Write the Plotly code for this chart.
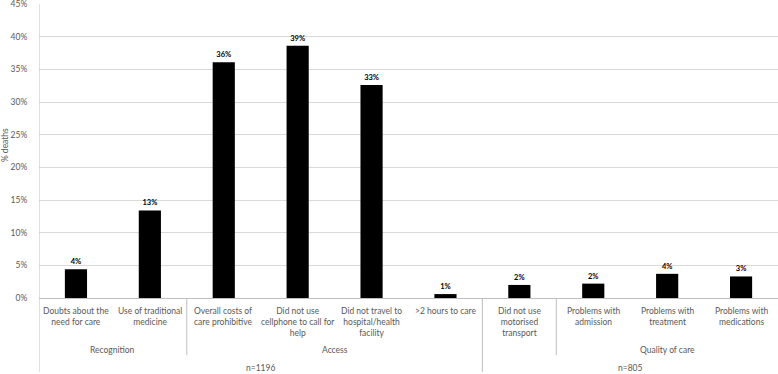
import plotly.graph_objects as go

# ---- data ----
categories = [
    "Doubts about the<br>need for care",
    "Use of traditional<br>medicine",
    "Overall costs of<br>care prohibitive",
    "Did not use<br>cellphone to call for<br>help",
    "Did not travel to<br>hospital/health<br>facility",
    ">2 hours to care",
    "Did not use<br>motorised<br>transport",
    "Problems with<br>admission",
    "Problems with<br>treatment",
    "Problems with<br>medications",
]
values = [4.4, 13.4, 36.1, 38.6, 32.6, 0.6, 2.0, 2.2, 3.7, 3.3]
groups = ["Recognition", "Recognition", "Access", "Access", "Access", "Access", "",
          "Quality of care", "Quality of care", "Quality of care"]
samples = ["n=1196"] * 6 + ["n=805"] * 4
y_ticks = [0, 5, 10, 15, 20, 25, 30, 35, 40, 45]
y_tick_labels = ["0%", "5%", "10%", "15%", "20%", "25%", "30%", "35%", "40%", "45%"]

# ---- layout constants ----
W, H = 778, 374
ML, MR, MT, MB = 39, 0, 4, 76
PH = H - MT - MB
FONT = "Lato, 'Open Sans', sans-serif"
GREY = "#595959"
LINE = "#bfbfbf"


def py(px):
    """pixel row -> paper y"""
    return (H - MB - px) / PH


x = list(range(len(categories)))

fig = go.Figure()
fig.add_trace(go.Bar(
    x=x, y=values, width=0.3,
    marker=dict(color="black", line=dict(width=0)),
    texttemplate="<b>%{y:.0f}%</b>", textposition="outside",
    textfont=dict(size=7.5, color="black", family=FONT),
    cliponaxis=False, hoverinfo="skip",
))

annotations = []
# level 1 labels
for xi, c in zip(x, categories):
    annotations.append(dict(x=xi, y=py(303.5), xref="x", yref="paper", text=c,
                            showarrow=False, yanchor="top", xanchor="center",
                            font=dict(size=8.5, color=GREY, family=FONT)))


def spans(labels):
    out = []
    start = 0
    for i in range(1, len(labels) + 1):
        if i == len(labels) or labels[i] != labels[start]:
            out.append((labels[start], start, i - 1))
            start = i
    return out


shapes = []
g_spans = spans(groups)
s_spans = spans(samples)
for lab, a, b in g_spans:
    if lab:
        annotations.append(dict(x=(a + b) / 2, y=py(350), xref="x", yref="paper", text=lab,
                                showarrow=False, yanchor="middle",
                                font=dict(size=8.5, color=GREY, family=FONT)))
for lab, a, b in s_spans:
    annotations.append(dict(x=(a + b) / 2, y=py(367.5), xref="x", yref="paper", text=lab,
                            showarrow=False, yanchor="middle",
                            font=dict(size=8.5, color=GREY, family=FONT)))

# y-axis title
annotations.append(dict(x=0, y=0.52, xref="paper", yref="paper", xshift=-ML + 5, text="% deaths",
                        textangle=-90, showarrow=False, xanchor="center", yanchor="middle",
                        font=dict(size=8.5, color=GREY, family=FONT)))

s_bounds = {b for _, _, b in s_spans}
for _, a, b in g_spans:
    if b == len(x) - 1:
        continue
    bottom = 372 if b in s_bounds else 355
    shapes.append(dict(type="line", xref="x", yref="paper", x0=b + 0.5, x1=b + 0.5,
                       y0=0, y1=py(bottom), line=dict(color=LINE, width=1)))
# left axis line extended down
shapes.append(dict(type="line", xref="x", yref="paper", x0=-0.5, x1=-0.5,
                   y0=1, y1=py(372), line=dict(color=LINE, width=1)))

fig.update_layout(
    width=W, height=H,
    margin=dict(l=ML, r=MR, t=MT, b=MB, autoexpand=False),
    paper_bgcolor="white", plot_bgcolor="white",
    showlegend=False,
    font=dict(family=FONT, color=GREY),
    xaxis=dict(range=[-0.5, len(x) - 0.5], showticklabels=False, showgrid=False,
               zeroline=False, showline=False, ticks="", automargin=False),
    yaxis=dict(range=[0, 45], tickmode="array", tickvals=y_ticks, ticktext=y_tick_labels,
               showgrid=True, gridcolor="#d9d9d9", gridwidth=1,
               zeroline=True, zerolinecolor=LINE, zerolinewidth=1,
               showline=False, ticks="outside", ticklen=9, tickcolor="rgba(0,0,0,0)",
               automargin=False, ticklabeloverflow="allow",
               tickfont=dict(size=8.5, color=GREY, family=FONT)),
    annotations=annotations,
    shapes=shapes,
)

fig.write_html("out.html", config={"displayModeBar": False},
               post_script="document.body.style.margin='0';document.body.style.padding='0';")
